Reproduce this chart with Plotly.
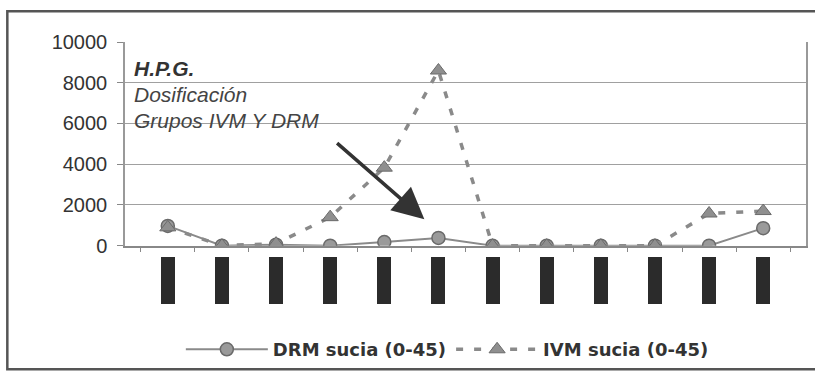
import plotly.graph_objects as go

categories = [f"c{i}" for i in range(1, 13)]
drm_values = [970, 0, 50, 0, 180, 380, 0, 0, 0, 0, 0, 860]
ivm_values = [900, 0, 100, 1400, 3830, 8600, 0, 0, 0, 0, 1580, 1700]
label_boxes = [1] * 12
y_ticks = [0, 2000, 4000, 6000, 8000, 10000]
y_tick_text = ["0", "2000", "4000", "6000", "8000", "10000"]
drm_name = "DRM sucia (0-45)"
ivm_name = "IVM sucia (0-45)"

fig = go.Figure()

fig.add_trace(go.Scatter(
    x=categories, y=drm_values, name=drm_name, mode="lines+markers",
    line=dict(color="#8a8a8a", width=2),
    marker=dict(symbol="circle", size=13, color="#9a9a9a",
                line=dict(color="#6a6a6a", width=1.5)),
    xaxis="x", yaxis="y",
))
fig.add_trace(go.Scatter(
    x=categories, y=ivm_values, name=ivm_name, mode="lines+markers",
    line=dict(color="#8a8a8a", width=3.5, dash="7px,11px"),
    marker=dict(symbol="triangle-up", size=14, color="#8f8f8f",
                line=dict(color="#6a6a6a", width=1)),
    xaxis="x", yaxis="y",
))
# black label boxes under each category
fig.add_trace(go.Bar(
    x=categories, y=label_boxes, width=0.26, marker=dict(color="#2b2b2b", line=dict(width=0)),
    showlegend=False, hoverinfo="skip", xaxis="x2", yaxis="y2",
))

tick_font = dict(family="Liberation Sans, Arial", size=20, color="#333333")

fig.update_layout(
    width=815, height=375,
    margin=dict(l=125, r=7, t=42, b=69),
    paper_bgcolor="white", plot_bgcolor="white",
    showlegend=True,
    legend=dict(orientation="h", x=0.082, xanchor="left", y=-0.174, yanchor="middle",
                font=dict(family="DejaVu Sans", size=18, color="#333333",
                          weight="bold"),
                itemwidth=82, tracegroupgap=0, bgcolor="rgba(0,0,0,0)"),
    xaxis=dict(domain=[0, 1], anchor="y", type="category", showticklabels=False,
               ticks="outside", tickson="boundaries", ticklen=5, tickcolor="#888",
               showline=True, linecolor="#888", linewidth=1.5, mirror=False,
               showgrid=False, zeroline=False, fixedrange=True),
    yaxis=dict(domain=[0.2226, 1], anchor="x", range=[0, 10000], tickvals=y_ticks,
               ticktext=y_tick_text,
               ticks="outside", ticklen=6, tickcolor="#888", tickfont=tick_font,
               showline=True, linecolor="#999", linewidth=1.5, mirror=True,
               gridcolor="#a0a0a0", gridwidth=1, zeroline=False, ticklabelstandoff=6),
    xaxis2=dict(domain=[0, 1], anchor="y2", matches="x", type="category",
                showticklabels=False, showline=False, showgrid=False, ticks="", zeroline=False),
    yaxis2=dict(domain=[0, 0.181], anchor="x2", range=[0, 1], visible=False, showgrid=False),
    bargap=0,
)

# outer frame
fig.add_shape(type="rect", xref="paper", yref="paper",
              x0=-0.1728, x1=1.02, y0=-0.249, y1=1.117,
              line=dict(color="#555555", width=2.5), fillcolor="rgba(0,0,0,0)", layer="below")

# text annotations
fig.add_annotation(xref="paper", yref="paper", x=0.010, y=0.898, xanchor="left", yanchor="middle",
                   text="<b><i>H.P.G.</i></b>", showarrow=False,
                   font=dict(family="Liberation Sans, Arial", size=21, color="#333333"))
fig.add_annotation(xref="paper", yref="paper", x=0.010, y=0.800, xanchor="left", yanchor="middle",
                   text="<i>Dosificación</i>", showarrow=False,
                   font=dict(family="Liberation Sans, Arial", size=21, color="#444444"))
fig.add_annotation(xref="paper", yref="paper", x=0.010, y=0.700, xanchor="left", yanchor="middle",
                   text="<i>Grupos IVM Y DRM</i>", showarrow=False,
                   font=dict(family="Liberation Sans, Arial", size=21, color="#444444"))

# arrow
fig.add_annotation(x=4.74, y=1300, xref="x", yref="y", ax=3.1, ay=5100, axref="x", ayref="y",
                   text="", showarrow=True, arrowhead=2, arrowsize=1.8, arrowwidth=3.5,
                   arrowcolor="#333333")

fig.write_html("out.html")
